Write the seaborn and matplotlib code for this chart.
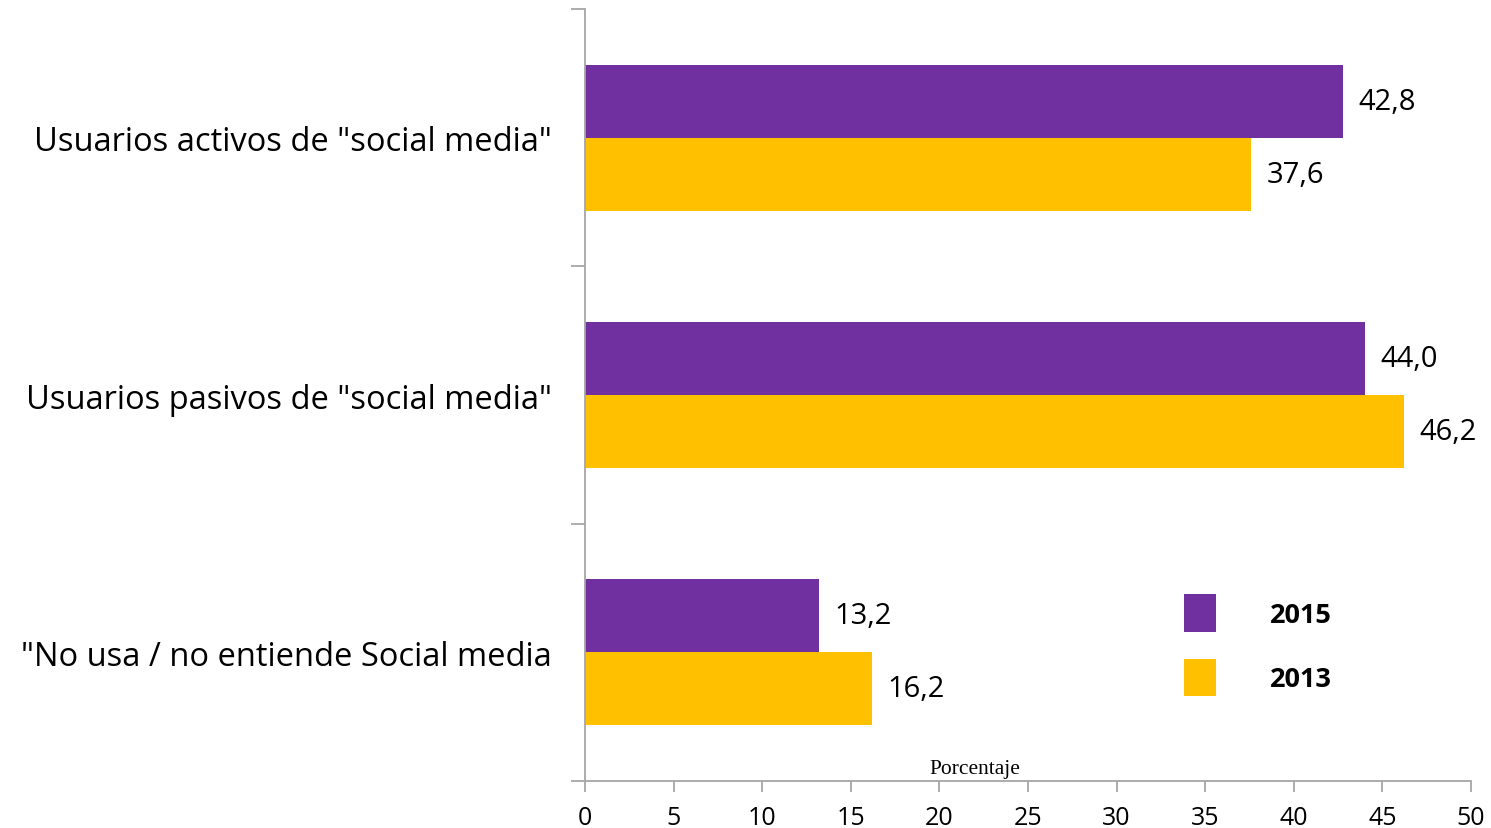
import numpy as np
import pandas as pd
import seaborn as sns
import matplotlib.pyplot as plt
from matplotlib.patches import Patch

# ------------------ DATA ------------------
categories = [
    'Usuarios activos de "social media"',
    'Usuarios pasivos de "social media"',
    '"No usa / no entiende Social media',
]
years = ['2015', '2013']
values_2015 = [42.8, 44.0, 13.2]
values_2013 = [37.6, 46.2, 16.2]
x_ticks = [0, 5, 10, 15, 20, 25, 30, 35, 40, 45, 50]

df = pd.DataFrame({
    'Categoria': categories * 2,
    'Year': ['2015'] * 3 + ['2013'] * 3,
    'Valor': values_2015 + values_2013,
})

# ------------------ STYLE ------------------
sns.set_style('white')
plt.rcParams['font.family'] = ['Open Sans', 'DejaVu Sans']
plt.rcParams['text.color'] = 'black'
plt.rcParams['xtick.labelcolor'] = 'black'
plt.rcParams['ytick.labelcolor'] = 'black'

palette = {'2015': '#7030A0', '2013': '#FFC000'}
axis_gray = '#A6A6A6'

fig = plt.figure(figsize=(14.91, 8.29), dpi=100)
ax = fig.add_axes([0.3924, 0.0567, 0.5942, 0.9312])

sns.barplot(
    data=df, x='Valor', y='Categoria', hue='Year',
    hue_order=years, order=categories, palette=palette,
    width=0.568, orient='h', ax=ax, legend=False,
    saturation=1, edgecolor='none'
)

# value labels with comma decimals
for cont in ax.containers:
    ax.bar_label(cont, labels=[f'{v:.1f}'.replace('.', ',') for v in cont.datavalues],
                 padding=11, fontsize=21, color='black')

ax.set_xlim(0, 50)
ax.set_ylim(2.5, -0.5)
ax.set_xticks(x_ticks)
ax.set_xticklabels([str(t) for t in x_ticks], fontsize=18)
ax.set_xlabel('')
ax.set_ylabel('')

# y labels centred on groups, ticks at category boundaries
ax.set_yticks(range(len(categories)))
ax.set_yticklabels(categories, fontsize=23.5)
ax.tick_params(axis='y', which='major', left=False, length=0, pad=24)
ax.set_yticks([-0.5, 0.5, 1.5, 2.5], minor=True)
ax.tick_params(axis='y', which='minor', left=True, length=10, color=axis_gray, width=1.3)
ax.tick_params(axis='x', which='major', bottom=True, length=8, color=axis_gray, width=1.3, pad=9)

for side in ['top', 'right']:
    ax.spines[side].set_visible(False)
for side in ['left', 'bottom']:
    ax.spines[side].set_color(axis_gray)
    ax.spines[side].set_linewidth(1.3)

ax.text(0.44, 0.0035, 'Porcentaje', transform=ax.transAxes, ha='center', va='bottom',
        fontsize=15.5, family=['Liberation Serif', 'DejaVu Serif'])

handles = [Patch(facecolor=palette[y], edgecolor='none') for y in years]
leg = ax.legend(handles, years, loc='center left', bbox_to_anchor=(0.649, 0.176),
                frameon=False, handlelength=1.15, handleheight=1.74,
                handletextpad=2.0, labelspacing=1.0,
                prop={'size': 19.5, 'weight': 'bold'})

fig.savefig('out.png', dpi=100)
